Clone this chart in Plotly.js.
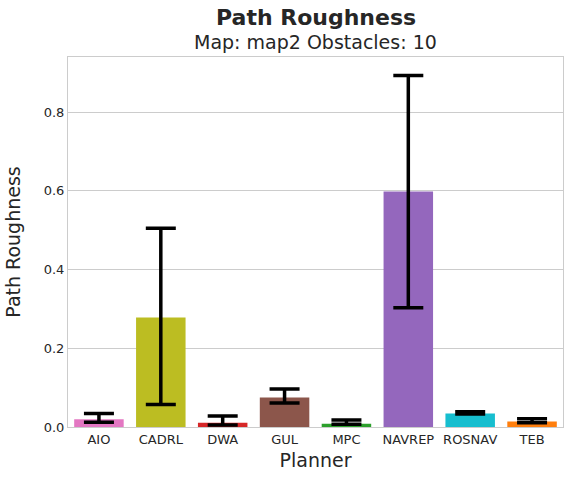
<!DOCTYPE html>
<html><head><script src="https://cdn.plot.ly/plotly-3.0.1.min.js"></script></head>
<body style="margin:0">
<div id="c" style="width:573px;height:486px"></div>
<script>
const planners = ["AIO","CADRL","DWA","GUL","MPC","NAVREP","ROSNAV","TEB"];
const means = [0.0195,0.278,0.011,0.075,0.0085,0.598,0.034,0.014];
const errLow = [0.012,0.057,0.005,0.061,0.007,0.303,0.033,0.011];
const errHigh = [0.034,0.505,0.028,0.0965,0.018,0.893,0.039,0.021];
const colors = ["#e377c2","#bcbd22","#d62728","#8c564b","#2ca02c","#9467bd","#17becf","#ff7f0e"];
const plus = means.map((m,i)=>errHigh[i]-m);
const minus = means.map((m,i)=>m-errLow[i]);
Plotly.newPlot('c',[{
  type:'bar', x:planners, y:means, width:0.8,
  marker:{color:colors},
  error_y:{type:'data',symmetric:false,array:plus,arrayminus:minus,color:'black',thickness:3.5,width:15}
}],{
  width:573,height:486,
  margin:{l:68,r:10,t:57,b:59},
  plot_bgcolor:'white',paper_bgcolor:'white',
  font:{family:'DejaVu Sans',color:'#262626'},
  annotations:[
    {text:'<b>Path Roughness</b>',xref:'paper',yref:'paper',x:0.5,y:1,yshift:40,xanchor:'center',yanchor:'middle',showarrow:false,font:{size:22}},
    {text:'Map: map2 Obstacles: 10',xref:'paper',yref:'paper',x:0.5,y:1,yshift:15,xanchor:'center',yanchor:'middle',showarrow:false,font:{size:19}}
  ],
  xaxis:{title:{text:'Planner',font:{size:19},standoff:8},tickfont:{size:13},showline:true,linecolor:'#ccc',mirror:true,ticks:''},
  yaxis:{title:{text:'Path Roughness',font:{size:19}},range:[0,0.94],tickvals:[0,0.2,0.4,0.6,0.8],tickformat:'.1f',tickfont:{size:13},gridcolor:'#ccc',showline:true,linecolor:'#ccc',mirror:true,zeroline:false,ticks:''},
  showlegend:false
},{displayModeBar:false});
</script></body></html>
